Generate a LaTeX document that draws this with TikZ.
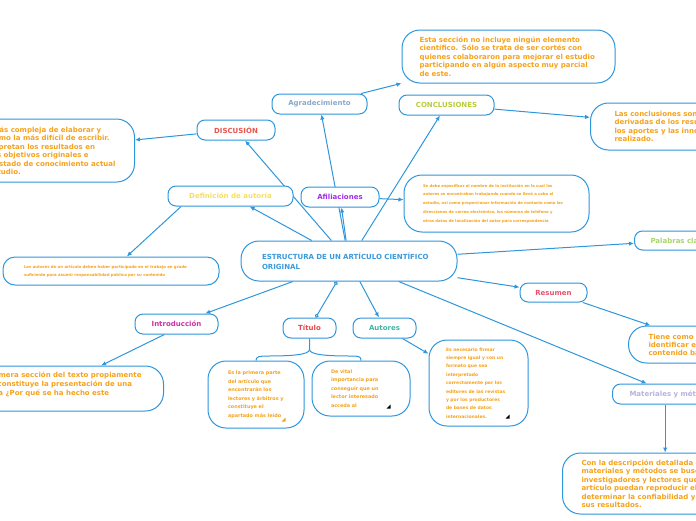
\documentclass[tikz,border=0pt]{standalone}
\usepackage{fontspec}
\setmainfont{DejaVu Sans}
\usetikzlibrary{arrows.meta,positioning}

\definecolor{mapblue}{HTML}{2E96DB}
\definecolor{noteorange}{HTML}{F7A21B}
\definecolor{titleblue}{HTML}{3A9BDC}
\definecolor{cAgrad}{HTML}{8BA9CB}
\definecolor{cConcl}{HTML}{B9CD3B}
\definecolor{cDisc}{HTML}{E9544C}
\definecolor{cDefin}{HTML}{F6E05E}
\definecolor{cAfil}{HTML}{A22CEB}
\definecolor{cIntro}{HTML}{CF2FA6}
\definecolor{cTitulo}{HTML}{E8474B}
\definecolor{cAutores}{HTML}{3EB7A2}
\definecolor{cResumen}{HTML}{E9526B}
\definecolor{cPalabras}{HTML}{A7D66B}
\definecolor{cMater}{HTML}{B4B4E2}

\pgfdeclarelayer{links}
\pgfsetlayers{links,main}

\tikzset{
  topic/.style={draw=mapblue, line width=1pt, fill=white, rounded corners=8pt,
    minimum height=20pt, inner sep=0pt, font=\bfseries\fontsize{7}{8.5}\selectfont},
  note/.style={draw=mapblue, line width=1pt, fill=white, rounded corners=18pt,
    text=noteorange, align=left, inner ysep=0pt, font=\bfseries\fontsize{7}{8.5}\selectfont},
  link/.style={draw=mapblue, line width=1pt, -{Latex[length=5pt,width=4.5pt]}},
  fork/.style={draw=mapblue, line width=1pt},
}

\begin{document}
\begin{tikzpicture}[x=1pt,y=-1pt]
\clip (0,0) rectangle (696,520);

% central topic
\node[topic, rounded corners=18pt, minimum width=216pt, minimum height=40pt, text width=174pt, align=left, text=titleblue, font=\bfseries\fontsize{7}{9.7}\selectfont] (main) at (349,261) {ESTRUCTURA DE UN ARTÍCULO CIENTÍFICO\\ORIGINAL};

% topics
\node[topic, minimum width=95pt, text=cAgrad] (agrad) at (319.5,104) {Agradecimiento};
\node[topic, minimum width=95pt, text=cConcl] (concl) at (446.5,105) {CONCLUSIONES};
\node[topic, minimum width=78pt, text=cDisc] (disc) at (236,130) {DISCUSIÓN};
\node[topic, minimum width=125pt, text=cDefin] (defaut) at (230.5,196) {Definición de autoría};
\node[topic, minimum width=78pt, text=cAfil] (afil) at (340,197) {Afiliaciones};
\node[topic, minimum width=67pt, minimum height=19pt, text=cResumen] (resumen) at (553.5,292.5) {Resumen};
\node[topic, minimum width=83pt, text=cIntro] (intro) at (176.5,324) {Introducción};
\node[topic, minimum width=53pt, text=cTitulo] (titulo) at (309.5,328) {Título};
\node[topic, minimum width=63pt, text=cAutores] (autores) at (384.5,328) {Autores};
\node[topic, anchor=west, inner xsep=16pt, minimum height=19pt, text=cPalabras] (palabras) at (634,240.5) {Palabras clave};
\node[topic, anchor=west, inner xsep=17pt, text=cMater] (materiales) at (612,394) {Materiales y métodos};

% notes
\node[note, text width=178pt, inner xsep=17.5pt, minimum height=53pt] (agradnote) at (508.5,56.5) {Esta sección no incluye ningún elemento\\científico. Sólo se trata de ser cortés con\\quienes colaboraron para mejorar el estudio\\participando en algún aspecto muy parcial\\de este.};
\node[note, anchor=west, inner xsep=24pt, minimum height=47pt] (conclnote) at (590,126.5) {Las conclusiones son las ideas\\derivadas de los resultados,\\los aportes y las innovaciones del trabajo\\realizado.};
\node[note, anchor=east, inner xsep=19pt, minimum height=63pt] (discnote) at (135,150.5) {Es la sección más compleja de elaborar y\\considerada como la más difícil de escribir.\\En ella se interpretan los resultados en\\relación con los objetivos originales e\\hipótesis y el estado de conocimiento actual\\del tema de estudio.};
\node[note, font=\bfseries\fontsize{3.8}{8.7}\selectfont, text width=147pt, inner xsep=19pt, minimum height=57pt] (afilnote) at (496.5,203.5) {Se debe especificar el nombre de la institución en la cual los\\autores se encontraban trabajando cuando se llevó a cabo el\\estudio, así como proporcionar información de contacto como las\\direcciones de correo electrónico, los números de teléfono y\\otros datos de localización del autor para correspondencia};
\node[note, rounded corners=12pt, font=\bfseries\fontsize{3.9}{8.3}\selectfont, text width=174pt, inner xsep=21pt, minimum height=28pt] (defautnote) at (111,271) {Los autores de un artículo deben haber participado en el trabajo en grado\\suficiente para asumir responsabilidad pública por su contenido};
\node[note, anchor=west, inner xsep=20pt, minimum height=37pt, font=\bfseries\fontsize{7}{7.9}\selectfont] (resumennote) at (628,344.5) {Tiene como objetivo\\identificar en forma rápida el\\contenido básico del artículo};
\node[note, anchor=east, inner xsep=22pt, minimum height=45pt, font=\bfseries\fontsize{7}{9}\selectfont] (intronote) at (164,388.5) {Es la primera sección del texto propiamente\\dicho y constituye la presentación de una\\pregunta ¿Por qué se ha hecho este\\trabajo?};
\node[note, font=\bfseries\fontsize{4.9}{8.5}\selectfont, text width=56pt, inner xsep=20pt, minimum height=67pt] (tituloa) at (256,394.5) {Es la primera parte\\del artículo que\\encontrarán los\\lectores y árbitros y\\constituye el\\apartado más leído};
\node[note, font=\bfseries\fontsize{4.9}{8.5}\selectfont, text width=60pt, inner xsep=19pt, minimum height=55pt] (titulob) at (361,388.5) {De vital\\importancia para\\conseguir que un\\lector interesado\\acceda al};
\node[note, font=\bfseries\fontsize{4.5}{8.4}\selectfont, text width=65pt, inner xsep=17pt, minimum height=86pt] (autoresnote) at (478.5,383) {Es necesario firmar\\siempre igual y con un\\formato que sea\\interpretado\\correctamente por los\\editores de las revistas\\y por los productores\\de bases de datos\\internacionales.};
\node[note, anchor=west, inner xsep=19pt, minimum height=61pt] (materialesnote) at (562,483.5) {Con la descripción detallada de los\\materiales y métodos se busca que\\investigadores y lectores que lean el\\artículo puedan reproducir el estudio y\\determinar la confiabilidad y validez de\\sus resultados.};

% marks for hidden text
\fill[noteorange] ([shift={(-23pt,7pt)}]tituloa.south east) -- ++(4,0) -- ++(0,-4) -- cycle;
\fill[black] ([shift={(-24pt,8pt)}]titulob.south east) -- ++(4,0) -- ++(0,-4) -- cycle;
\fill[black] ([shift={(-23pt,8pt)}]autoresnote.south east) -- ++(4,0) -- ++(0,-4) -- cycle;

\begin{pgfonlayer}{links}
% from the central topic
\draw[link] (main) -- (disc);
\draw[link] (main) -- (defaut);
\draw[link] (main) -- (agrad);
\draw[link] (main) -- (afil);
\draw[link] (main) -- (concl);
\draw[link] (main) -- (palabras);
\draw[link] (main) -- (resumen);
\draw[link] (main) -- (materiales);
\draw[link] (main) -- (intro);
\draw[link] (main) -- (autores);
\draw[link, {Circle[open,length=4pt]}-{Circle[open,length=4pt]}] (main) -- (titulo);

% topics to their notes
\draw[link] (agrad) -- (agradnote);
\draw[link] (concl) -- (conclnote);
\draw[link] (disc) -- (discnote);
\draw[link] (afil) -- (afilnote);
\draw[link] (defaut.192) -- (defautnote);
\draw[link] (resumen) -- (resumennote);
\draw[link] (intro.221) -- (intronote);
\draw[link] (autores) -- (autoresnote);
\draw[link] ([xshift=-7pt]materiales.south) -- ([xshift=-7pt]materiales.south |- materialesnote.north);

% titulo splits in two
\draw[fork] (titulo.south) -- ++(0,11) coordinate (tfork)
  .. controls +(0,5) and +(25,0) .. (268,356) .. controls +(-9,0) and +(0,-4) .. (tituloa.north);
\draw[fork] (tfork) .. controls +(0,5) and +(-25,0) .. (350,356) .. controls +(9,0) and +(0,-4) .. (titulob.north);
\end{pgfonlayer}
\end{tikzpicture}
\end{document}
